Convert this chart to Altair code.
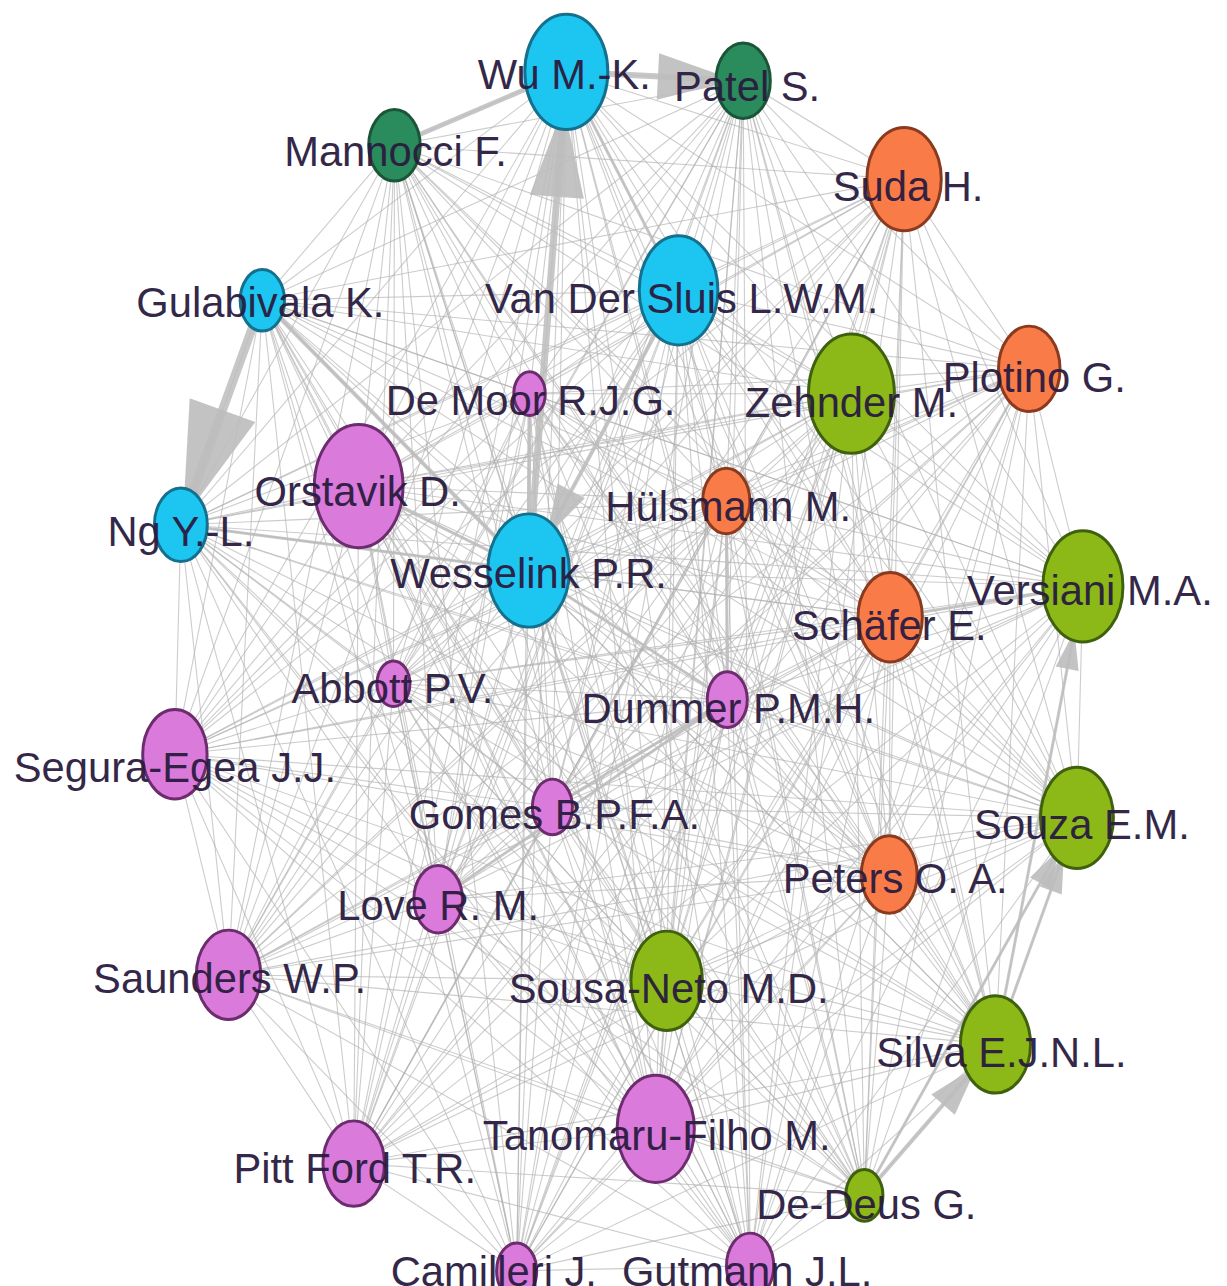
import itertools
import math
import altair as alt
import pandas as pd

# ---- node data (layout coordinates of the network picture) ----
names = [
    "Wu M.-K.", "Patel S.", "Mannocci F.", "Suda H.", "Gulabivala K.",
    "Van Der Sluis L.W.M.", "De Moor R.J.G.", "Zehnder M.", "Plotino G.", "Orstavik D.",
    "Ng Y.-L.", "Hülsmann M.", "Wesselink P.R.", "Versiani M.A.", "Schäfer E.",
    "Abbott P.V.", "Dummer P.M.H.", "Segura-Egea J.J.", "Gomes B.P.F.A.", "Souza E.M.",
    "Peters O. A.", "Love R. M.", "Saunders W.P.", "Sousa-Neto M.D.", "Silva E.J.N.L.",
    "Tanomaru-Filho M.", "Pitt Ford T.R.", "De-Deus G.", "Camilleri J.", "Gutmann J.L.",
]
node_x = [570, 748, 397, 910, 264, 683, 533, 857, 1036, 361,
          182, 731, 532, 1090, 896, 396, 732, 176, 556, 1084,
          895, 441, 230, 671, 1002, 660, 356, 870, 520, 755]
node_y = [68, 77, 142, 176, 298, 288, 392, 392, 367, 485,
          524, 500, 570, 586, 617, 684, 700, 755, 808, 819,
          876, 901, 977, 983, 1047, 1132, 1167, 1199, 1275, 1270]
node_weight = [58, 38, 36, 52, 31, 55, 22, 60, 43, 62,
               37, 33, 57, 56, 45, 23, 28, 45, 28, 51,
               39, 34, 45, 50, 49, 54, 43, 26, 28, 33]
cluster = [1, 2, 2, 3, 1, 1, 5, 4, 3, 5,
           1, 3, 1, 4, 3, 5, 5, 5, 5, 4,
           3, 5, 5, 4, 4, 5, 5, 4, 5, 5]
label_x = [568, 752, 398, 914, 262, 686, 534, 857, 1041, 360,
           182, 733, 532, 1097, 895, 395, 733, 176, 558, 1089,
           901, 441, 231, 673, 1008, 661, 357, 872, 497, 752]
label_y = [72, 84, 150, 185, 302, 298, 400, 402, 377, 492,
           532, 507, 575, 592, 627, 690, 710, 770, 817, 827,
           882, 909, 982, 992, 1057, 1140, 1174, 1210, 1277, 1277]

# strong (weighted) links: source, target, weight, drawn with arrow head
strong_links = [
    ("Gulabivala K.", "Ng Y.-L.", 9, True),
    ("Wesselink P.R.", "Wu M.-K.", 7, True),
    ("Wu M.-K.", "Patel S.", 6, True),
    ("Mannocci F.", "Wu M.-K.", 5, False),
    ("Van Der Sluis L.W.M.", "Wesselink P.R.", 4, True),
    ("De Moor R.J.G.", "Wesselink P.R.", 4, False),
    ("Gulabivala K.", "Wesselink P.R.", 4, False),
    ("Ng Y.-L.", "Wesselink P.R.", 3, False),
    ("Orstavik D.", "Wesselink P.R.", 3, False),
    ("Wu M.-K.", "Van Der Sluis L.W.M.", 3, False),
    ("De-Deus G.", "Silva E.J.N.L.", 4, True),
    ("Silva E.J.N.L.", "Souza E.M.", 3, True),
    ("Silva E.J.N.L.", "Versiani M.A.", 3, True),
    ("De-Deus G.", "Souza E.M.", 3, True),
    ("Dummer P.M.H.", "Gomes B.P.F.A.", 3, False),
    ("Dummer P.M.H.", "Love R. M.", 3, False),
    ("Dummer P.M.H.", "Wesselink P.R.", 3, False),
    ("Dummer P.M.H.", "Hülsmann M.", 3, False),
    ("Schäfer E.", "Versiani M.A.", 3, False),
]

cluster_ids = [1, 2, 3, 4, 5]
cluster_fill = ["#1dc5f1", "#2a8b5d", "#f97b47", "#8cb918", "#da7ada"]
cluster_stroke = ["#14708d", "#1b5538", "#8a3b1f", "#3f600d", "#6d2c6d"]

# ---- tables built from the arrays ----
nodes = pd.DataFrame({
    "name": names, "x": node_x, "y": node_y, "w": node_weight,
    "cluster": cluster, "lx": label_x, "ly": label_y,
})
pos = {n: (x, y, w) for n, x, y, w in zip(names, node_x, node_y, node_weight)}
ASPECT = 0.72

edges = pd.DataFrame([
    {"x": pos[a][0], "y": pos[a][1], "x2": pos[b][0], "y2": pos[b][1]}
    for a, b in itertools.combinations(names, 2)
])

strong = pd.DataFrame([
    {"x": pos[a][0], "y": pos[a][1], "x2": pos[b][0], "y2": pos[b][1], "w": w}
    for a, b, w, _ in strong_links
])

arrows = []
for a, b, w, has_arrow in strong_links:
    if not has_arrow:
        continue
    sx, sy, _ = pos[a]
    tx, ty, tr = pos[b]
    dx, dy = tx - sx, ty - sy
    d = math.hypot(dx, dy)
    ux, uy = dx / d, dy / d
    ry = tr
    rx = tr * ASPECT
    reff = 1.0 / math.sqrt((ux / rx) ** 2 + (uy / ry) ** 2)
    length = 6.5 * w
    cx = tx - ux * (reff + length / 2)
    cy = ty - uy * (reff + length / 2)
    ang = math.degrees(math.atan2(ux, -uy)) % 360
    arrows.append({"x": cx, "y": cy, "len": length, "angle": ang})
arrows = pd.DataFrame(arrows)

W, H = 1219, 1278
xs = alt.Scale(domain=[8, 8 + W])
ys = alt.Scale(domain=[8, 8 + H], reverse=True)

ellipse = "M -0.72 0 A 0.72 1 0 1 1 0.72 0 A 0.72 1 0 1 1 -0.72 0 Z"
arrow_path = "M 0 -1 L 0.6 1 L -0.6 1 Z"

thin = alt.Chart(edges).mark_rule(color="#b0b0b0", opacity=0.65, strokeWidth=1.1).encode(
    x=alt.X("x:Q", scale=xs, axis=None),
    y=alt.Y("y:Q", scale=ys, axis=None),
    x2="x2:Q", y2="y2:Q",
)

thick = alt.Chart(strong).mark_rule(color="#bdbdbd", opacity=0.85).encode(
    x=alt.X("x:Q", scale=xs, axis=None),
    y=alt.Y("y:Q", scale=ys, axis=None),
    x2="x2:Q", y2="y2:Q",
    strokeWidth=alt.StrokeWidth("w:Q", scale=None),
)

heads = alt.Chart(arrows).mark_point(
    shape=arrow_path, filled=True, color="#bcbcbc", opacity=0.9
).encode(
    x=alt.X("x:Q", scale=xs, axis=None),
    y=alt.Y("y:Q", scale=ys, axis=None),
    size=alt.Size("len:Q", scale=alt.Scale(type="pow", exponent=2, domain=[0, 100], range=[0, 40000]), legend=None),
    angle=alt.Angle("angle:Q", scale=None),
)

circles = alt.Chart(nodes).mark_point(
    shape=ellipse, filled=True, opacity=1, strokeWidth=3
).encode(
    x=alt.X("x:Q", scale=xs, axis=None),
    y=alt.Y("y:Q", scale=ys, axis=None),
    size=alt.Size("w:Q", scale=alt.Scale(type="pow", exponent=2, domain=[0, 60], range=[0, 57600]), legend=None),
    fill=alt.Fill("cluster:N", scale=alt.Scale(domain=cluster_ids, range=cluster_fill), legend=None),
    stroke=alt.Stroke("cluster:N", scale=alt.Scale(domain=cluster_ids, range=cluster_stroke), legend=None),
)

labels = alt.Chart(nodes).mark_text(
    font="Liberation Sans, Arial, sans-serif",
    fontSize=42, color="#2a1c40", align="center", baseline="middle", opacity=0.95,
).encode(
    x=alt.X("lx:Q", scale=xs, axis=None),
    y=alt.Y("ly:Q", scale=ys, axis=None),
    text="name:N",
)

chart = alt.layer(thin, thick, heads, circles, labels).properties(
    width=W, height=H, padding=0,
    autosize=alt.AutoSizeParams(type="none"),
).configure_view(stroke=None)

chart.save("out.html", embed_options={"renderer": "svg", "actions": False})
